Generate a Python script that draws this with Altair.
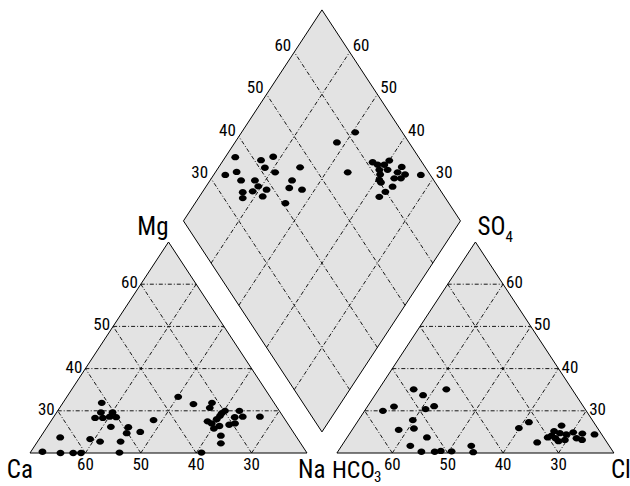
import altair as alt
import pandas as pd

# ---- data (percent of meq) ----
# cation triangle: Ca (bottom-left vertex), Mg (top vertex)
cat_ca = [51.1, 52.4, 54.1, 52.7, 50.3, 51.3, 50.2, 52.3, 49.2, 50.2, 47.6, 43.8, 36.6,
          62.7, 57.5, 56.0, 52.3, 67.6, 64.5, 62.2, 60.8, 53.8,
          34.7, 31.2, 32.2, 29.8, 30.7, 31.3, 27.2, 27.3, 28.8, 24.2, 32.3, 34.2, 33.7,
          33.9, 32.6, 30.7, 29.5, 33.5, 34.4, 39.0]
cat_mg = [31.9, 29.6, 28.3, 28.3, 29.6, 28.6, 28.5, 26.2, 26.1, 24.7, 25.0, 27.8, 33.3,
          23.7, 23.3, 22.7, 22.7, 20.3, 20.0, 20.0, 20.0, 20.1,
          31.6, 31.9, 30.7, 30.0, 29.4, 28.8, 30.0, 28.6, 28.5, 28.6, 28.0, 27.5, 27.0,
          25.8, 26.4, 26.7, 27.0, 24.1, 22.3, 20.1]
# anion triangle: HCO3 (bottom-left vertex), SO4 (top vertex)
an_hco3 = [48.6, 47.6, 42.7, 54.2, 56.7, 46.9, 48.8, 52.4, 53.2, 56.1, 51.9, 55.9, 54.6,
           52.2, 51.0, 49.1, 44.9, 45.3,
           31.7, 34.2, 32.6, 26.2, 28.2, 30.1, 28.8, 27.4, 26.4, 24.9, 23.4, 27.3, 28.6,
           25.0, 24.2, 21.3, 29.2]
an_so4 = [35.1, 33.7, 35.1, 31.0, 30.0, 31.1, 30.4, 27.8, 25.8, 25.5, 23.7, 21.7, 20.3,
          20.3, 20.5, 20.4, 21.7, 20.2,
          27.3, 25.9, 22.5, 26.5, 25.2, 23.7, 23.5, 24.7, 24.4, 24.9, 24.6, 23.1, 22.8,
          23.5, 23.1, 24.4, 24.1]
# diamond: s (scale on upper-left edge), t (scale on upper-right edge)
dia_s = [36.9, 33.0, 35.4, 35.2, 41.2, 43.8, 41.0, 42.3, 37.7, 37.6, 36.0, 34.1, 33.4,
         38.7, 37.2, 40.5, 47.4, 44.4, 43.0, 45.1,
         61.5, 57.0, 55.4, 61.1, 61.7, 62.9, 64.3, 61.4, 62.9, 61.0, 60.2, 60.2, 65.8,
         64.4, 65.5, 63.1, 64.3, 68.3, 61.8, 59.9, 58.2]
dia_t = [68.2, 67.9, 66.2, 64.4, 63.2, 61.4, 61.6, 59.2, 61.9, 60.6, 61.0, 62.7, 62.0,
         58.7, 58.6, 53.7, 55.3, 55.2, 54.8, 52.3,
         49.5, 51.6, 46.1, 42.8, 41.6, 40.4, 40.0, 40.7, 39.2, 40.0, 39.5, 38.9, 37.0,
         37.1, 35.5, 37.0, 35.8, 32.6, 36.3, 37.0, 37.5]

ticks = [30, 40, 50, 60]

# ---- geometry (sub-triangles spanning 50 %, minima 20/20/10) ----
RIGHT_SHIFT = 55.4
DIA_X0, DIA_Y0 = 52.7, 5.0


def tri_xy(a, b, shift=0.0):
    return 80 - a - b / 2 + shift, b - 20


def dia_xy(s, t):
    sp, tp = s - 20, t - 20
    return DIA_X0 + (sp - tp) / 2, DIA_Y0 + sp + tp


xs = alt.Scale(domain=[-30 / 5.54, 600 / 5.54], nice=False, zero=False)
ys = alt.Scale(domain=[(453 - 486) / 4.22, 453 / 4.22], nice=False, zero=False)


def X(f="X"):
    return alt.X(f + ":Q", scale=xs, axis=None)


def Y(f="Y"):
    return alt.Y(f + ":Q", scale=ys, axis=None, stack=None)


# ---- fills (one area layer per shape) ----
def area_layer(rows):
    return alt.Chart(pd.DataFrame(rows)).mark_area(
        fill="#e3e3e3", fillOpacity=1, strokeWidth=0).encode(
        x=X(), y=Y(), y2=alt.Y2("Y2:Q"))


fill_layers = []
for sh in [0.0, RIGHT_SHIFT]:
    rows = []
    for a, b in [(70, 20), (20, 70), (20, 20)]:
        x, y = tri_xy(a, b, sh)
        rows.append(dict(X=x, Y=y, Y2=tri_xy(a, 20, sh)[1]))
    fill_layers.append(area_layer(rows))
drows = []
for (s, t), (s2, t2) in [((20, 70), (20, 70)), ((70, 70), (20, 20)), ((70, 20), (70, 20))]:
    x, y = dia_xy(s, t)
    drows.append(dict(X=x, Y=y, Y2=dia_xy(s2, t2)[1]))
fill_layers.append(area_layer(drows))

# ---- grid lines and edges ----
grid_rows, edge_rows = [], []


def seg(rows, p, q):
    rows.append(dict(X=p[0], Y=p[1], X2=q[0], Y2=q[1]))


for sh in [0.0, RIGHT_SHIFT]:
    for k in ticks:
        seg(grid_rows, tri_xy(90 - k, k, sh), tri_xy(20, k, sh))
        seg(grid_rows, tri_xy(k, 20, sh), tri_xy(k, 90 - k, sh))
        seg(grid_rows, tri_xy(k, 20, sh), tri_xy(20, k, sh))
    v = [tri_xy(70, 20, sh), tri_xy(20, 70, sh), tri_xy(20, 20, sh)]
    for i in range(3):
        seg(edge_rows, v[i], v[(i + 1) % 3])
for k in ticks:
    seg(grid_rows, dia_xy(k, 20), dia_xy(k, 70))
    seg(grid_rows, dia_xy(20, k), dia_xy(70, k))
dv = [dia_xy(20, 20), dia_xy(70, 20), dia_xy(70, 70), dia_xy(20, 70)]
for i in range(4):
    seg(edge_rows, dv[i], dv[(i + 1) % 4])

grid = alt.Chart(pd.DataFrame(grid_rows)).mark_rule(
    color="#000000", strokeWidth=0.9, strokeDash=[4, 2, 1, 2]).encode(
    x=X(), y=Y(), x2="X2:Q", y2="Y2:Q")
edges = alt.Chart(pd.DataFrame(edge_rows)).mark_rule(
    color="#000000", strokeWidth=1).encode(x=X(), y=Y(), x2="X2:Q", y2="Y2:Q")

# ---- points ----
pts = []
for a, b in zip(cat_ca, cat_mg):
    x, y = tri_xy(a, b)
    pts.append(dict(X=x, Y=y))
for a, b in zip(an_hco3, an_so4):
    x, y = tri_xy(a, b, RIGHT_SHIFT)
    pts.append(dict(X=x, Y=y))
for s, t in zip(dia_s, dia_t):
    x, y = dia_xy(s, t)
    pts.append(dict(X=x, Y=y))
ellipse = "M-1,0A1,0.8,0,1,0,1,0A1,0.8,0,1,0,-1,0Z"
points = alt.Chart(pd.DataFrame(pts)).mark_point(
    shape=ellipse, filled=True, color="black", opacity=1, size=62).encode(x=X(), y=Y())

# ---- tick labels ----
FONT = "Roboto Condensed"
TSIZE = 17


def lab_rows(pairs):
    return pd.DataFrame([dict(X=p[0], Y=p[1], T=str(k)) for k, p in pairs])


def text_layer(df, **kw):
    return alt.Chart(df).mark_text(font=FONT, fontSize=TSIZE, color="black", **kw).encode(
        x=X(), y=Y(), text="T:N")


lab_mg = text_layer(lab_rows([(k, tri_xy(90 - k, k)) for k in ticks]),
                    align="right", baseline="middle", dx=-3, dy=-1)
lab_so4 = text_layer(lab_rows([(k, tri_xy(20, k, RIGHT_SHIFT)) for k in ticks]),
                     align="left", baseline="middle", dx=3, dy=-1)
lab_bottom = text_layer(lab_rows([(k, tri_xy(k, 20)) for k in ticks] +
                                 [(k, tri_xy(k, 20, RIGHT_SHIFT)) for k in ticks]),
                        align="center", baseline="top", dy=4)
lab_dl = text_layer(lab_rows([(k, dia_xy(k, 70)) for k in ticks]),
                    align="right", baseline="alphabetic", dx=-3, dy=-1)
lab_dr = text_layer(lab_rows([(k, dia_xy(70, k)) for k in ticks]),
                    align="left", baseline="alphabetic", dx=3, dy=-1)

# ---- corner labels ----
CSIZE = 25


def corner(text, p, size=CSIZE, **kw):
    df = pd.DataFrame([dict(X=p[0], Y=p[1], T=text)])
    return alt.Chart(df).mark_text(font=FONT, fontSize=size, color="black",
                                   baseline="alphabetic", **kw).encode(
        x=X(), y=Y(), text="T:N")


corners = [
    corner("Ca", tri_xy(70, 20), align="right", dx=3, dy=25),
    corner("Na", tri_xy(20, 20), align="left", dx=-9, dy=25),
    corner("Mg", tri_xy(20, 70), align="right", dx=0, dy=-7),
    corner("SO", tri_xy(20, 70, RIGHT_SHIFT), align="left", dx=2, dy=-7),
    corner("4", tri_xy(20, 70, RIGHT_SHIFT), size=15, align="left", dx=30, dy=0),
    corner("HCO", tri_xy(70, 20, RIGHT_SHIFT), size=24, align="left", dx=-5, dy=25),
    corner("3", tri_xy(70, 20, RIGHT_SHIFT), size=15, align="left", dx=37, dy=29),
    corner("Cl", tri_xy(20, 20, RIGHT_SHIFT), align="left", dx=-3, dy=25),
]

chart = alt.layer(*fill_layers, grid, edges, points, lab_mg, lab_so4, lab_bottom, lab_dl,
                  lab_dr, *corners).properties(
    width=630, height=486, padding=0, autosize="none", background="white"
).configure_view(stroke=None)

chart.save("out.html", embed_options={"renderer": "svg", "actions": False})
